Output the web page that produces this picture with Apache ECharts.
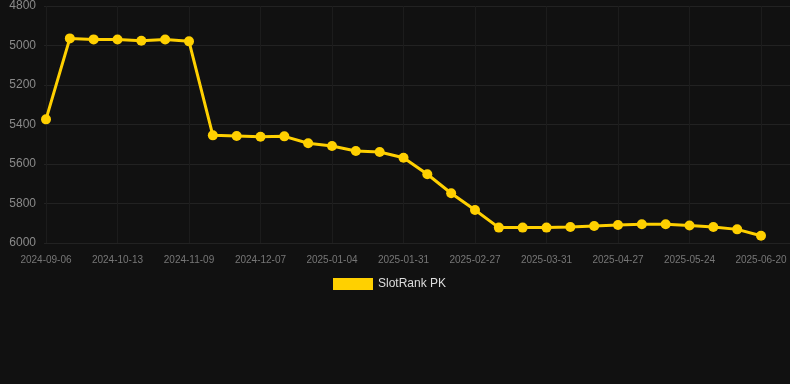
<!DOCTYPE html>
<html>
<head>
<meta charset="utf-8">
<script src="https://cdn.jsdelivr.net/npm/echarts@6/dist/echarts.min.js"></script>
<style>
  html, body { margin: 0; padding: 0; background: #111111; }
  #chart { width: 790px; height: 384px; }
</style>
</head>
<body>
<div id="chart"></div>
<script>
const dates = [
  "2024-09-06", "2024-09-18", "2024-10-01", "2024-10-13", "2024-10-22",
  "2024-10-31", "2024-11-09", "2024-11-18", "2024-11-28", "2024-12-07",
  "2024-12-16", "2024-12-25", "2025-01-04", "2025-01-13", "2025-01-22",
  "2025-01-31", "2025-02-09", "2025-02-18", "2025-02-27", "2025-03-09",
  "2025-03-20", "2025-03-31", "2025-04-09", "2025-04-18", "2025-04-27",
  "2025-05-06", "2025-05-15", "2025-05-24", "2025-06-02", "2025-06-11",
  "2025-06-20"
];
const rankValues = [
  5374, 4964, 4969, 4970, 4976, 4970, 4979, 5455, 5458, 5462,
  5460, 5495, 5509, 5534, 5539, 5568, 5652, 5748, 5833, 5922,
  5922, 5922, 5919, 5914, 5909, 5905, 5905, 5911, 5919, 5931,
  5963
];
const yMin = 4800;
const yMax = 6000;
const yStep = 200;
const seriesName = "SlotRank PK";

const chart = echarts.init(document.getElementById("chart"));

const option = {
  backgroundColor: "#111111",
  animation: false,
  textStyle: { fontFamily: "Arial, 'Liberation Sans', sans-serif" },
  grid: [
    // background grid: y labels + full-width horizontal lines
    { left: 44, right: 0, top: 6, bottom: 141 },
    // data grid
    { left: 46, right: 29, top: 6, bottom: 141 }
  ],
  xAxis: [
    { type: "value", gridIndex: 0, show: false, min: 0, max: 1 },
    {
      type: "category",
      gridIndex: 1,
      data: dates,
      boundaryGap: false,
      axisLine: { show: false },
      axisTick: { show: false },
      axisLabel: {
        interval: 2,
        color: "#777777",
        fontSize: 10,
        margin: 12
      },
      splitLine: {
        show: true,
        interval: 2,
        lineStyle: { color: "#1c1c1c", width: 1 }
      }
    }
  ],
  yAxis: [
    {
      type: "value",
      gridIndex: 0,
      inverse: true,
      min: yMin,
      max: yMax,
      interval: yStep,
      axisLine: { show: false },
      axisTick: { show: false },
      axisLabel: {
        color: "#8a8a8a",
        fontSize: 12,
        margin: 8,
        formatter: (v) => String(v)
      },
      splitLine: { lineStyle: { color: "#222222", width: 1 } }
    },
    {
      type: "value",
      gridIndex: 1,
      inverse: true,
      min: yMin,
      max: yMax,
      interval: yStep,
      show: false,
      splitLine: { show: false }
    }
  ],
  legend: {
    data: [seriesName],
    left: 328,
    top: 273,
    icon: "rect",
    itemWidth: 40,
    itemHeight: 12,
    itemGap: 10,
    textStyle: { color: "#dddddd", fontSize: 12 }
  },
  series: [
    {
      name: seriesName,
      type: "line",
      xAxisIndex: 1,
      yAxisIndex: 1,
      data: rankValues,
      symbol: "circle",
      symbolSize: 10,
      lineStyle: { color: "#ffd000", width: 3 },
      itemStyle: { color: "#ffd000" }
    }
  ]
};

chart.setOption(option);
</script>
</body>
</html>
